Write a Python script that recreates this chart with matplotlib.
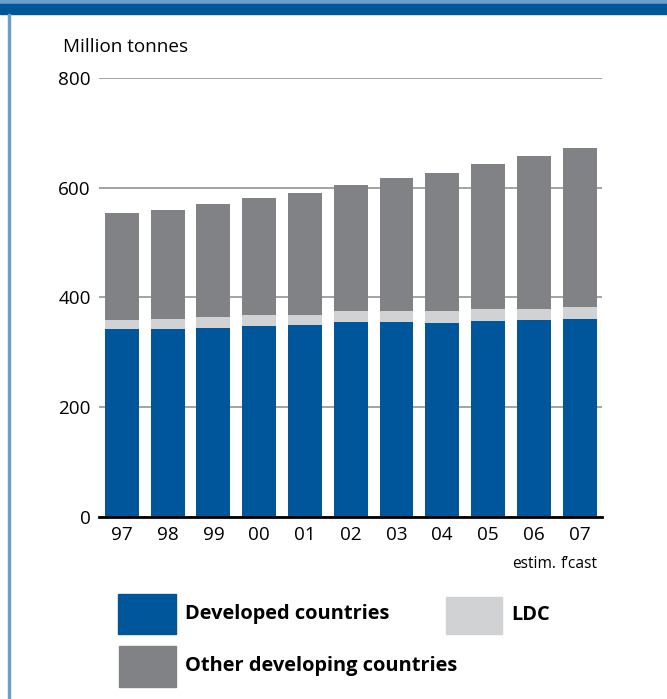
import numpy as np
import matplotlib
matplotlib.use("Agg")
import matplotlib.pyplot as plt
from matplotlib.patches import Rectangle

plt.rcParams['font.family'] = ['Open Sans', 'DejaVu Sans']

# cereal use, million tonnes
years = ['97', '98', '99', '00', '01', '02', '03', '04', '05', '06', '07']
notes = {'06': 'estim.', '07': 'f\u2019cast'}
developed = [342, 343, 345, 348, 349, 355, 355, 354, 357, 358, 360]
ldc = [17, 18, 18.5, 19, 19, 19.5, 20, 21, 21, 21, 22]
other_dev = [195, 198, 207.5, 213.5, 222, 230.5, 242.5, 252.5, 264.5, 278, 290]
yticks = [0, 200, 400, 600, 800]

c_dev = '#00569a'
c_ldc = '#d1d2d4'
c_oth = '#808285'
band = '#00569a'
band_light = '#6b9ec9'

W, H = 667, 699
fig = plt.figure(figsize=(W / 100, H / 100), dpi=100)


def px(x, y):
    return x / W, 1 - y / H


# header bands and left rule
fig.patches.append(Rectangle(px(0, 4), 1, 4 / H, transform=fig.transFigure,
                             color=band_light, zorder=0))
fig.patches.append(Rectangle(px(0, 14), 1, 10 / H, transform=fig.transFigure,
                             color=band, zorder=0))
fig.patches.append(Rectangle(px(7.5, H), 2 / W, (H - 14) / H,
                             transform=fig.transFigure, color=band_light, zorder=0))

ax = fig.add_axes([99 / W, (H - 516.7) / H, 503 / W, 438.7 / H])
x = np.arange(len(years))
dev = np.array(developed)
ld = np.array(ldc)
oth = np.array(other_dev)
w = 0.74
ax.bar(x, dev, w, color=c_dev, zorder=2)
ax.bar(x, ld, w, bottom=dev, color=c_ldc, zorder=2)
ax.bar(x, oth, w, bottom=dev + ld, color=c_oth, zorder=2)

ax.set_xlim(-0.5, 10.49)
ax.set_ylim(0, 800)
ax.set_yticks(yticks)
ax.yaxis.grid(True, color='#a3a3a3', linewidth=1.4, zorder=1)
ax.set_xticks(x)
ax.set_xticklabels(years)
ax.tick_params(axis='both', length=0, labelsize=13.6, colors='black')
ax.tick_params(axis='y', pad=6)
ax.tick_params(axis='x', pad=7)
for s in ['top', 'right', 'left']:
    ax.spines[s].set_visible(False)
ax.spines['bottom'].set_linewidth(2)
ax.spines['bottom'].set_zorder(3)
ax.set_facecolor('none')

for i, yr in enumerate(years):
    if yr in notes:
        ax.annotate(notes[yr], (i, 0), xytext=(0, -28), textcoords='offset points',
                    ha='center', va='top', fontsize=11.2)

fig.text(*px(63, 47), 'Million tonnes', fontsize=13.6, va='center', ha='left')

# legend
items = [('Developed countries', c_dev, 118, 594, 58, 40),
         ('LDC', c_ldc, 446, 597, 56, 37),
         ('Other developing countries', c_oth, 119, 646, 57, 41)]
for label, col, lx, ly, lw, lh in items:
    fig.patches.append(Rectangle(px(lx, ly + lh), lw / W, lh / H,
                                 transform=fig.transFigure, color=col))
    fig.text(*px(lx + lw + 9, ly + lh / 2), label, fontsize=14.4,
             fontweight='bold', va='center', ha='left')

fig.savefig('out.png', dpi=100)
